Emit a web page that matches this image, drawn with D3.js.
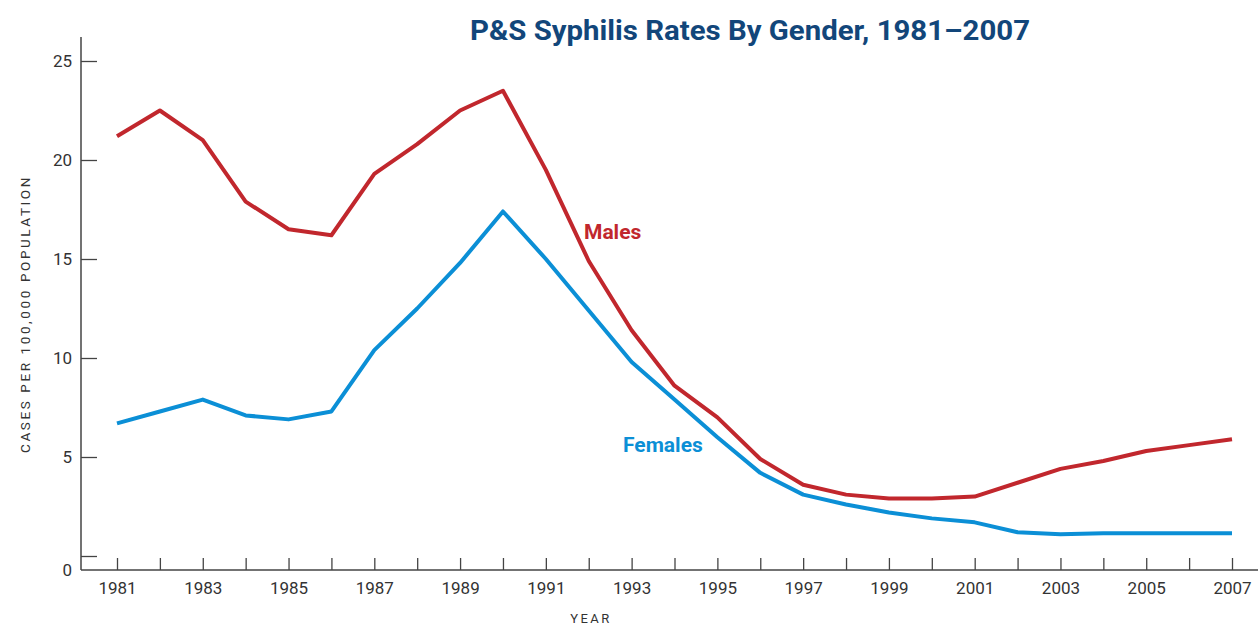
<!DOCTYPE html>
<html>
<head>
<meta charset="utf-8">
<script src="https://cdn.jsdelivr.net/npm/d3@7"></script>
<style>
  body { margin: 0; background: #fff; }
  text { font-family: Roboto, "DejaVu Sans", sans-serif; }
</style>
</head>
<body>
<div id="chart"></div>
<script>
// data
var years = d3.range(1981, 2008);
var males = [21.2, 22.5, 21.0, 17.9, 16.5, 16.2, 19.3, 20.8, 22.5, 23.5,
  19.5, 14.9, 11.4, 8.6, 7.0, 4.9, 3.6, 3.1, 2.9, 2.9,
  3.0, 3.7, 4.4, 4.8, 5.3, 5.6, 5.9];
var females = [6.7, 7.3, 7.9, 7.1, 6.9, 7.3, 10.4, 12.5, 14.8, 17.4,
  15.0, 12.4, 9.8, 7.9, 6.0, 4.2, 3.1, 2.6, 2.2, 1.9,
  1.7, 1.2, 1.1, 1.15, 1.15, 1.15, 1.15];
var yTicks = [0, 5, 10, 15, 20, 25];
var xLabelYears = d3.range(1981, 2008, 2);

var svgWidth = 1258;
var svgHeight = 627;

var axisX = 81;      // y axis line
var baseY = 570;     // x axis line

var svg = d3.select("#chart")
  .append("svg")
  .attr("width", svgWidth)
  .attr("height", svgHeight);

var x = d3.scaleLinear()
  .domain([1981, 2007])
  .range([117, 1232]);

var y = d3.scaleLinear()
  .domain([0, 25])
  .range([556, 61]);

// title
svg.append("text")
  .attr("x", 750)
  .attr("y", 40)
  .attr("text-anchor", "middle")
  .attr("font-size", 28)
  .attr("font-weight", "bold")
  .attr("fill", "#12467a")
  .attr("textLength", 560)
  .attr("lengthAdjust", "spacingAndGlyphs")
  .text("P&S Syphilis Rates By Gender, 1981\u20132007");

// y axis
var yAxis = d3.axisLeft(y)
  .tickValues(yTicks)
  .tickSize(-16)
  .tickPadding(9)
  .tickFormat(function(d) { return d === 0 ? "" : d; });

var yg = svg.append("g")
  .attr("transform", "translate(" + axisX + ",0)")
  .call(yAxis);
yg.select(".domain").remove();
yg.selectAll("line").attr("stroke", "#444").attr("stroke-width", 1.3);
yg.selectAll("text")
  .attr("font-size", 17)
  .attr("fill", "#333")
  .style("font-family", "Roboto, sans-serif");

svg.append("line")
  .attr("x1", axisX).attr("x2", axisX)
  .attr("y1", 37).attr("y2", baseY)
  .attr("stroke", "#444").attr("stroke-width", 1.5);

// x axis
var xAxis = d3.axisBottom(x)
  .tickValues(years)
  .tickSize(-12)
  .tickPadding(12)
  .tickFormat(function(d) { return xLabelYears.indexOf(d) >= 0 ? d : ""; });

var xg = svg.append("g")
  .attr("transform", "translate(0," + baseY + ")")
  .call(xAxis);
xg.select(".domain").remove();
xg.selectAll("line").attr("stroke", "#444").attr("stroke-width", 1.3);
xg.selectAll("text")
  .attr("font-size", 17)
  .attr("fill", "#333")
  .attr("dy", "0.71em")
  .style("font-family", "Roboto, sans-serif");

svg.append("line")
  .attr("x1", axisX).attr("x2", svgWidth)
  .attr("y1", baseY).attr("y2", baseY)
  .attr("stroke", "#444").attr("stroke-width", 1.5);

// "0" label at the baseline
svg.append("text")
  .attr("x", axisX - 9)
  .attr("y", baseY)
  .attr("dy", "0.35em")
  .attr("text-anchor", "end")
  .attr("font-size", 17)
  .attr("fill", "#333")
  .text("0");

// axis titles
svg.append("text")
  .attr("transform", "translate(30,314) rotate(-90)")
  .attr("text-anchor", "middle")
  .attr("font-size", 13.5)
  .attr("letter-spacing", 2.6)
  .attr("fill", "#333")
  .text("CASES PER 100,000 POPULATION");

svg.append("text")
  .attr("x", 591)
  .attr("y", 623)
  .attr("text-anchor", "middle")
  .attr("font-size", 13)
  .attr("letter-spacing", 2.4)
  .attr("fill", "#333")
  .text("YEAR");

// lines
var line = d3.line()
  .x(function(d) { return x(d.year); })
  .y(function(d) { return y(d.value); });

function toPoints(values) {
  return years.map(function(yr, i) { return { year: yr, value: values[i] }; });
}

svg.append("path")
  .datum(toPoints(females))
  .attr("fill", "none")
  .attr("stroke", "#0b8fd6")
  .attr("stroke-width", 4)
  .attr("stroke-linejoin", "round")
  .attr("d", line);

svg.append("path")
  .datum(toPoints(males))
  .attr("fill", "none")
  .attr("stroke", "#c1272d")
  .attr("stroke-width", 4)
  .attr("stroke-linejoin", "round")
  .attr("d", line);

// series labels
svg.append("text")
  .attr("x", 584)
  .attr("y", 239)
  .attr("font-size", 21)
  .attr("font-weight", "bold")
  .attr("fill", "#c1272d")
  .text("Males");

svg.append("text")
  .attr("x", 623)
  .attr("y", 452)
  .attr("font-size", 21)
  .attr("font-weight", "bold")
  .attr("fill", "#0b8fd6")
  .text("Females");
</script>
</body>
</html>
